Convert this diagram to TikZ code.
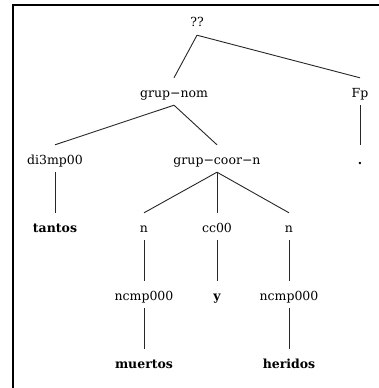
\documentclass[tikz,border=0pt]{standalone}
\usepackage{fontspec}
\setmainfont{DejaVu Serif}

\begin{document}
\begin{tikzpicture}[
  x=1pt,y=-1pt,
  cat/.style={anchor=base,inner xsep=1pt,inner ysep=5pt,text height=14pt,
    text depth=3pt,font=\fontsize{12.5}{15}\selectfont},
  word/.style={cat,font=\fontsize{12.5}{15}\selectfont\bfseries},
  branch/.style={draw=black!85,line width=.9pt}
]
  \useasboundingbox (0,0) rectangle (379,388);
  % frame edges
  \draw[line width=2pt] (13,388) |- (379,5);

  % labels, row by row
  \node[cat] (root) at (197,27) {??};

  \node[cat] (gnom) at (174,97) {grup−nom};
  \node[cat] (fp) at (360,97) {Fp};

  \node[cat] (di3) at (55,164) {di3mp00};
  \node[cat] (gcoor) at (217,164) {grup−coor−n};
  \node[word] (dot) at (360,164) {.};

  \node[word] (tantos) at (55,232) {tantos};
  \node[cat] (n1) at (144,232) {n};
  \node[cat] (cc) at (217,232) {cc00};
  \node[cat] (n2) at (289,232) {n};

  \node[cat] (nc1) at (144,300) {ncmp000};
  \node[word] (y) at (217,300) {y};
  \node[cat] (nc2) at (289,300) {ncmp000};

  \node[word] (muertos) at (144,368) {muertos};
  \node[word] (heridos) at (289,368) {heridos};

  % branches
  \draw[branch] (root.south) -- (gnom.north);
  \draw[branch] (root.south) -- (fp.north);
  \draw[branch] (gnom.south) -- (di3.north);
  \draw[branch] (gnom.south) -- (gcoor.north);
  \draw[branch] (fp.south) -- (dot.north);
  \draw[branch] (di3.south) -- (tantos.north);
  \foreach \k in {n1,cc,n2}
    \draw[branch] (gcoor.south) -- (\k.north);
  \draw[branch] (n1.south) -- (nc1.north);
  \draw[branch] (cc.south) -- (y.north);
  \draw[branch] (n2.south) -- (nc2.north);
  \draw[branch] (nc1.south) -- (muertos.north);
  \draw[branch] (nc2.south) -- (heridos.north);
\end{tikzpicture}
\end{document}
